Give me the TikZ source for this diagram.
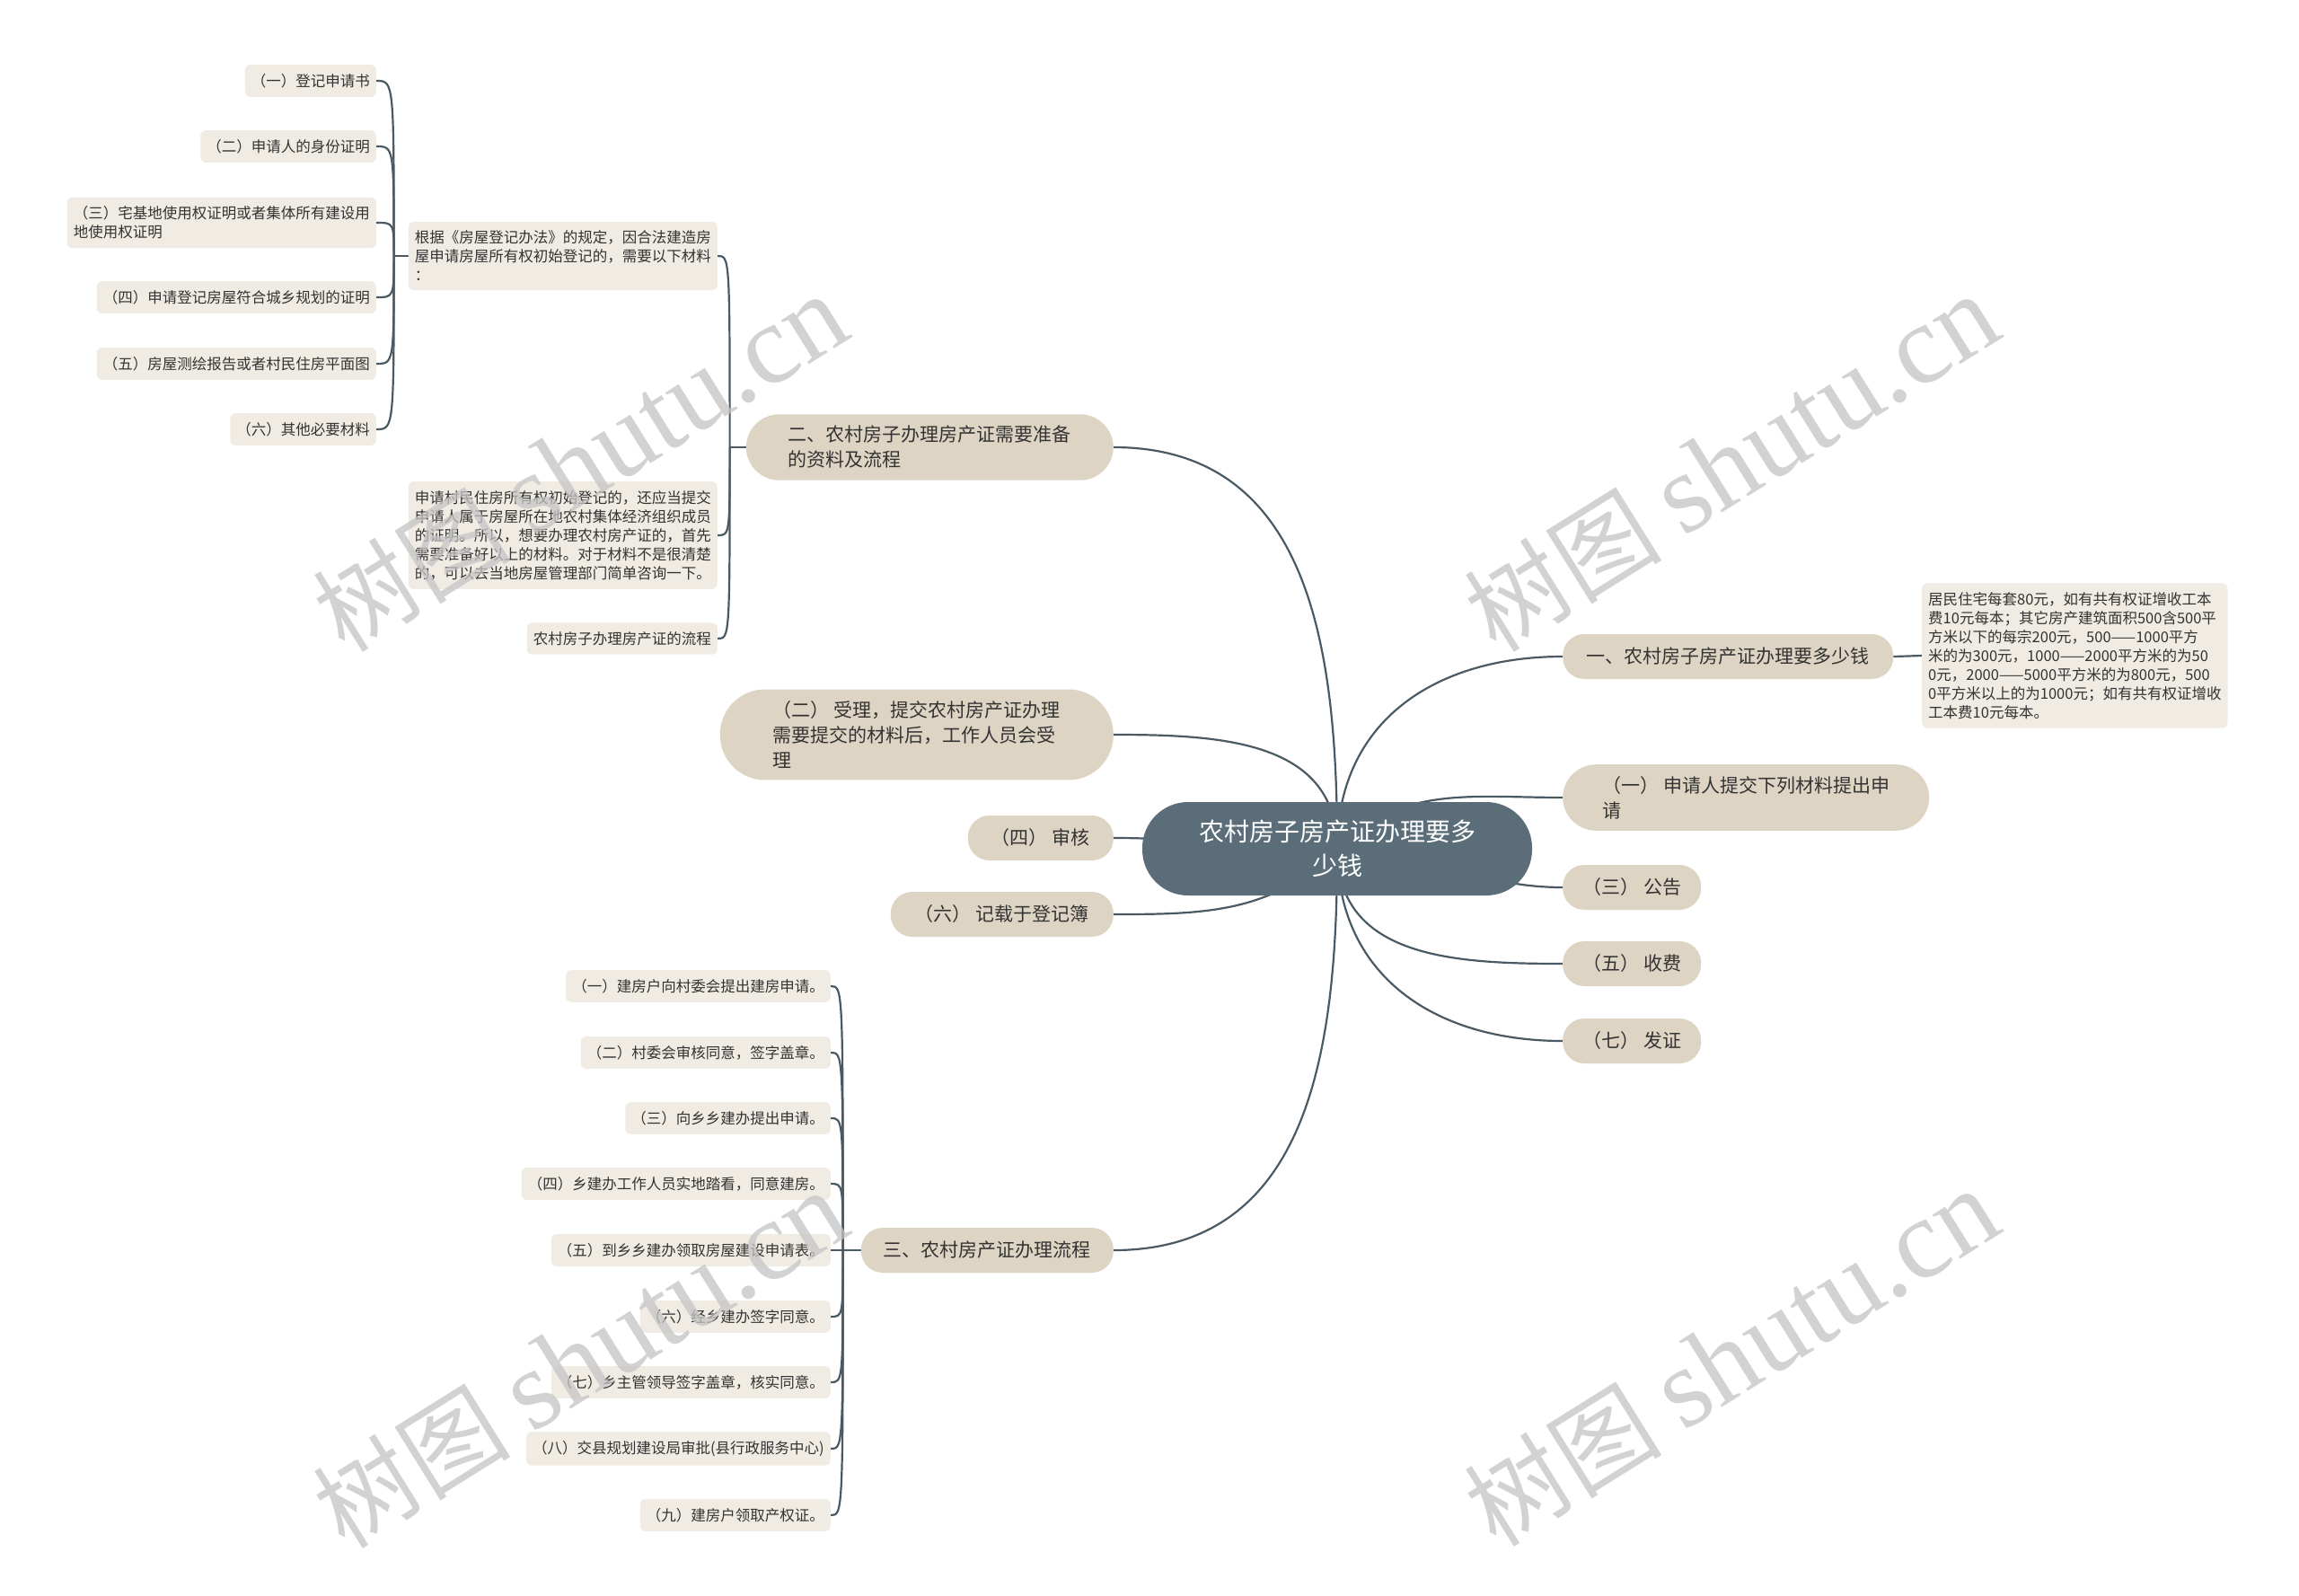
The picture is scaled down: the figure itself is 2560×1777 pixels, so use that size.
\documentclass[tikz,border=0pt]{standalone}
\usepackage{fontspec}
\setmainfont{Noto Sans CJK SC}
\newfontfamily\wmfont{Liberation Serif}
\usepackage{tikz}
\usetikzlibrary{arrows.meta}
\definecolor{rootc}{HTML}{5B6D79}
\definecolor{topicc}{HTML}{DED4C4}
\definecolor{notec}{HTML}{F0ECE4}
\definecolor{linec}{HTML}{4A5A64}
\definecolor{textc}{HTML}{333333}
\definecolor{markc}{HTML}{C4C4C4}
\pgfdeclarelayer{links}
\pgfsetlayers{links,main}

\begin{document}
\begin{tikzpicture}[x=1pt, y=-1pt,
    root/.style = {fill=rootc, text=white, rounded corners=51pt, align=center, minimum width=434pt, minimum height=104pt, font=\fontsize{28}{38}\selectfont},
    topic/.style = {fill=topicc, text=textc, rounded corners=24pt, align=left, inner xsep=22pt, inner ysep=13pt, minimum height=50pt, font=\fontsize{21}{28}\selectfont},
    note/.style = {fill=notec, text=textc, rounded corners=6pt, align=left, inner xsep=7pt, inner ysep=10pt, font=\fontsize{16.5}{21}\selectfont},
    link/.style = {draw=linec, line width=2.2pt},
    fan/.style = {to path={.. controls (\tikztostart |- \tikztotarget) and (\tikztostart |- \tikztotarget) .. (\tikztotarget)}},
    wmark/.style = {text=markc, opacity=0.75, rotate=32, font=\fontsize{110}{110}\selectfont}]
            \useasboundingbox (0,0) rectangle (2560,1777);

            \node[root] (root) at (1489,945) {农村房子房产证办理要多\\少钱};

            \node[topic, minimum width=368pt, anchor=west] (cost) at (1740,731) {一、农村房子房产证办理要多少钱};
            \node[note, anchor=west] (costnote) at (2140,730) {居民住宅每套80元，如有共有权证增收工本\\费10元每本；其它房产建筑面积500含500平\\方米以下的每宗200元，500——1000平方\\米的为300元，1000——2000平方米的为50\\0元，2000——5000平方米的为800元，500\\0平方米以上的为1000元；如有共有权证增收\\工本费10元每本。};
            \node[topic, minimum width=408pt, rounded corners=37pt, anchor=west] (apply) at (1740,888) {（一） 申请人提交下列材料提出申\\请};
            \node[topic, minimum width=154pt, anchor=west] (notice) at (1740,988) {（三） 公告};
            \node[topic, minimum width=154pt, anchor=west] (fee) at (1740,1073) {（五） 收费};
            \node[topic, minimum width=154pt, anchor=west] (issue) at (1740,1159) {（七） 发证};

            \node[topic, minimum width=409pt, rounded corners=37pt, anchor=east] (prep) at (1240,498) {二、农村房子办理房产证需要准备\\的资料及流程};
            \node[topic, minimum width=438pt, rounded corners=50pt, anchor=east] (accept) at (1240,818) {（二） 受理，提交农村房产证办理\\需要提交的材料后，工作人员会受\\理};
            \node[topic, minimum width=162pt, anchor=east] (review) at (1240,933) {（四） 审核};
            \node[topic, minimum width=248pt, anchor=east] (record) at (1240,1018) {（六） 记载于登记簿};
            \node[topic, minimum width=281pt, anchor=east] (flow) at (1240,1392) {三、农村房产证办理流程};

            \node[note, anchor=east] (basis) at (799,285) {根据《房屋登记办法》的规定，因合法建造房\\屋申请房屋所有权初始登记的，需要以下材料\\：};
            \node[note, anchor=east] (extra) at (799,596) {申请村民住房所有权初始登记的，还应当提交\\申请人属于房屋所在地农村集体经济组织成员\\的证明。所以，想要办理农村房产证的，首先\\需要准备好以上的材料。对于材料不是很清楚\\的，可以去当地房屋管理部门简单咨询一下。};
            \node[note, anchor=east] (flowref) at (799,711) {农村房子办理房产证的流程};

            \node[note, anchor=east] (mat1) at (419,90) {（一）登记申请书};
            \node[note, anchor=east] (mat2) at (419,163) {（二）申请人的身份证明};
            \node[note, anchor=east] (mat3) at (419,248) {（三）宅基地使用权证明或者集体所有建设用\\地使用权证明};
            \node[note, anchor=east] (mat4) at (419,331) {（四）申请登记房屋符合城乡规划的证明};
            \node[note, anchor=east] (mat5) at (419,405) {（五）房屋测绘报告或者村民住房平面图};
            \node[note, anchor=east] (mat6) at (419,478) {（六）其他必要材料};

            \node[note, anchor=east] (proc1) at (925,1098) {（一）建房户向村委会提出建房申请。};
            \node[note, anchor=east] (proc2) at (925,1172) {（二）村委会审核同意，签字盖章。};
            \node[note, anchor=east] (proc3) at (925,1245) {（三）向乡乡建办提出申请。};
            \node[note, anchor=east] (proc4) at (925,1318) {（四）乡建办工作人员实地踏看，同意建房。};
            \node[note, anchor=east] (proc5) at (925,1392) {（五）到乡乡建办领取房屋建设申请表。};
            \node[note, anchor=east] (proc6) at (925,1466) {（六）经乡建办签字同意。};
            \node[note, anchor=east] (proc7) at (925,1539) {（七）乡主管领导签字盖章，核实同意。};
            \node[note, anchor=east] (proc8) at (925,1613) {（八）交县规划建设局审批(县行政服务中心)};
            \node[note, anchor=east] (proc9) at (925,1687) {（九）建房户领取产权证。};

            \begin{pgfonlayer}{links}
            \fill[white] (0,0) rectangle (2560,1777);

            \path[link] (root.center) edge[out=90, in=0, looseness=1.1] (prep.east)
                                      edge[out=90, in=0, looseness=1.1] (accept.east)
                                      edge[out=180, in=0] (review.east)
                                      edge[out=225, in=0] (record.east)
                                      edge[out=-90, in=0, looseness=1.1] (flow.east);
            \path[link] (root.center) edge[out=90, in=180, looseness=1.1] (cost.west)
                                      edge[out=45, in=180] (apply.west)
                                      edge[out=0, in=180] (notice.west)
                                      edge[out=-90, in=180, looseness=1.1] (fee.west)
                                      edge[out=-90, in=180, looseness=1.1] (issue.west);
            \path[link] (cost.east) edge (costnote.west);

            \draw[link] (prep.west) -- ++(-18,0) coordinate (prepfork);
            \path[link] (prepfork) edge[fan] (basis.east) edge[fan] (extra.east) edge[fan] (flowref.east);

            \draw[link] (basis.west) -- ++(-16,0) coordinate (basisfork);
            \foreach \m in {1,...,6}
                \path[link] (basisfork) edge[fan] (mat\m.east);

            \draw[link] (flow.west) -- ++(-20,0) coordinate (flowfork);
            \foreach \p in {1,...,9}
                \path[link] (flowfork) edge[fan] (proc\p.east);
            \end{pgfonlayer}

            \foreach \wx/\wy [count=\w] in {646/516, 1928/516, 646/1514, 1928/1512}
                \node[wmark] (wm\w) at (\wx,\wy) {树图 {\wmfont\fontsize{126}{126}\selectfont shutu.cn}};
        \end{tikzpicture}
\end{document}
